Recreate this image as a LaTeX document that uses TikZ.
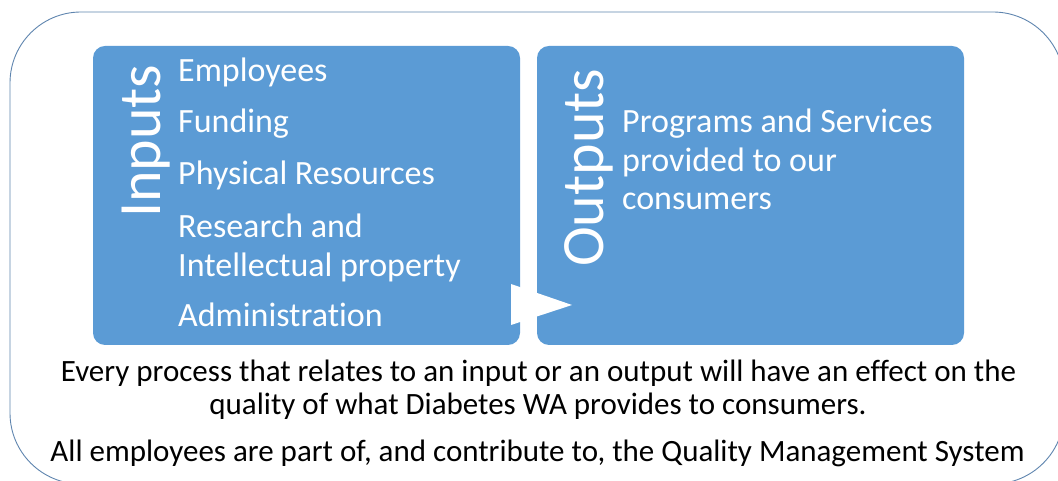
\documentclass[tikz,border=0pt]{standalone}
\usepackage{fontspec}
\setmainfont[Ligatures=NoCommon]{Carlito}
\definecolor{boxblue}{HTML}{5B9BD5}
\definecolor{framecol}{HTML}{5E84AE}
\begin{document}
\begin{tikzpicture}[x=1pt,y=1pt,
  panel/.style={fill=boxblue, draw=none, rounded corners=12pt},
  item/.style={anchor=base west, inner sep=0pt, text=white, font=\fontsize{34}{38}\selectfont, align=left},
  heading/.style={anchor=base west, inner sep=0pt, text=white, rotate=90, font=\fontsize{60}{60}\selectfont},
  note/.style={anchor=base, inner sep=0pt, text=black, font=\fontsize{31}{33}\selectfont}]
\useasboundingbox (0,0) rectangle (1058,481);
\draw[framecol, line width=0.9pt, rounded corners=71pt] (10,469) rectangle (1064,-3);
\fill[panel] (93,435) rectangle (520,136);
\node[inner sep=0pt] (inbox) at (306.5,285.5) {};
\fill[panel] (537,435) rectangle (964,136);
\node[inner sep=0pt] (outbox) at (750.5,285.5) {};
\fill[white] (511,197) -- (511,156) -- (572,176) -- cycle;
\node[heading] (inputs) at (160,263) {Inputs};
\node[heading] (outputs) at (603,214) {Outputs};
\node[item] (i1) at (178,399) {Employees};
\node[item] (i2) at (178,348) {Funding};
\node[item] (i3) at (178,296) {Physical Resources};
\node[item] (i4) at (178,243) {Research and};
\node[item] (i5) at (178,204) {Intellectual property};
\node[item] (i6) at (178,154) {Administration};
\node[item] (o1) at (622,348) {Programs and Services};
\node[item] (o2) at (622,309) {provided to our};
\node[item] (o3) at (622,271) {consumers};
\node[note] (n1) at (538.5,99) {Every process that relates to an input or an output will have an effect on the};
\node[note] (n2) at (538,66) {quality of what Diabetes WA provides to consumers.};
\node[note] (n3) at (537.5,19) {All employees are part of, and contribute to, the Quality Management System};
\end{tikzpicture}
\end{document}
